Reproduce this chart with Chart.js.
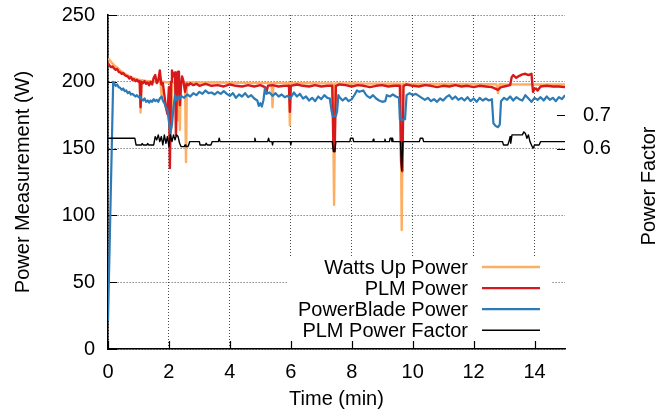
<!DOCTYPE html>
<html>
<head>
<meta charset="utf-8">
<script src="https://cdn.jsdelivr.net/npm/chart.js@4"></script>
<style>
  html, body { margin: 0; padding: 0; background: #fff; }
</style>
</head>
<body>
<canvas id="powerChart" width="657" height="413"></canvas>
<script>
// [time (min), watts]
const wattsUp = [
  [0,217.5],[0.1,215],[0.2,212.5],[0.3,210.5],[0.4,208.5],[0.5,207],[0.6,205.5],[0.7,204.2],[0.8,203.2],[0.9,202.3],
  [1.0,201.6],[1.04,201.5],[1.07,177],[1.1,201.2],[1.2,200.8],[1.4,200.3],[1.6,200],[1.72,200],[1.76,189],[1.8,200],
  [2.0,199.5],[2.05,199],[2.08,165],[2.11,199],[2.2,199.5],[2.25,199.5],[2.28,171],[2.31,199.5],[2.33,199],[2.36,164],
  [2.39,199.5],[2.53,199.5],[2.56,140],[2.59,199.5],[3,199.5],[3.5,199.5],[4,199.3],[4.5,199.2],[5,199],[5.37,199],
  [5.4,181],[5.43,199],[5.94,199],[5.97,167.5],[6.0,199],[6.5,198.9],[7,198.8],[7.38,198.8],[7.42,108],[7.46,198.8],
  [8,198.7],[8.5,198.6],[9,198.5],[9.6,198.5],[9.64,89],[9.68,198.5],[10,198.4],[11,198.3],[12,198.2],[12.75,198.2],
  [12.8,191.5],[12.85,198.2],[13,198.1],[14,198],[15,198]
];

const plmPower = [
  [0,214],[0.05,212],[0.1,211],[0.15,211.5],[0.2,210],[0.25,209],[0.3,209.5],[0.35,207.5],[0.4,207],[0.45,206],
  [0.5,206.5],[0.55,205],[0.6,204.5],[0.65,204],[0.7,202.5],[0.75,203.5],[0.8,201.5],[0.85,202],[0.9,200.5],[0.95,201.5],
  [1.0,200],[1.04,200.5],[1.07,181],[1.1,200],[1.15,199],[1.2,200.5],[1.25,198.5],[1.3,199.5],[1.35,197.5],[1.4,200],
  [1.45,198],[1.5,203],[1.55,205],[1.6,199],[1.65,201],[1.7,208.5],[1.75,198],[1.8,199],[1.85,190],[1.9,181],
  [1.95,176],[2.0,196],[2.03,135.5],[2.07,200],[2.1,208.5],[2.15,204],[2.2,207],[2.23,160],[2.27,200],[2.3,207.5],
  [2.33,196],[2.36,182.5],[2.4,199],[2.43,204],[2.47,201],[2.53,192.5],[2.58,198.5],[2.65,197.5],[2.7,199],[2.8,197.5],
  [2.9,198.5],[3.0,197],[3.2,198.5],[3.4,197],[3.6,197.5],[3.8,196.5],[4.0,198],[4.2,197],[4.4,196.5],[4.6,197.5],
  [4.8,196.5],[5.0,197.5],[5.15,196],[5.2,192],[5.25,197],[5.4,197.5],[5.6,196.5],[5.8,197],[5.94,197],[5.97,177.5],
  [6.0,197],[6.2,198],[6.4,197],[6.6,196.5],[6.8,197.5],[7.0,196.5],[7.2,197],[7.36,197],[7.4,150],[7.44,148],
  [7.48,197],[7.6,198],[7.8,197.5],[8.0,196.5],[8.2,197.5],[8.4,197],[8.6,196],[8.8,197],[9.0,197.5],[9.2,196.5],
  [9.4,197],[9.58,197],[9.62,140],[9.66,133],[9.7,197],[9.8,198],[10.0,197],[10.2,196.5],[10.4,197.5],[10.6,197],
  [10.8,196],[11.0,197],[11.2,196.5],[11.4,197.5],[11.6,196.5],[11.8,197],[12.0,196],[12.2,197],[12.4,196.5],[12.6,196],
  [12.8,194],[12.9,196],[13.0,196.5],[13.2,197.5],[13.25,203.5],[13.3,205],[13.4,203],[13.5,204.5],[13.6,205.5],[13.7,206],
  [13.8,205],[13.9,206],[13.95,192.5],[14.0,194.5],[14.05,195],[14.1,193.5],[14.2,196.5],[14.4,197],[14.6,196.5],[14.8,196.5],
  [15,196]
];

const powerBlade = [
  [0,21],[0.17,200],[0.2,199],[0.25,197],[0.3,198],[0.35,196],[0.4,195.5],[0.45,194],[0.5,195],[0.55,193],
  [0.6,193.5],[0.65,191.5],[0.7,192.5],[0.75,190.5],[0.8,191],[0.85,190],[0.9,189],[0.95,190],[1.0,188.5],[1.05,189],
  [1.1,187],[1.15,186],[1.2,187.5],[1.25,185],[1.3,186],[1.35,184.5],[1.4,186],[1.45,185],[1.5,187],[1.55,185.5],
  [1.6,186.5],[1.65,185],[1.7,187.5],[1.76,189],[1.8,186],[1.85,184],[1.9,181],[1.95,179],[2.0,170],[2.05,162],
  [2.1,168],[2.15,181],[2.2,190],[2.25,186],[2.3,189],[2.35,187],[2.4,189.5],[2.5,188],[2.6,190.5],[2.7,189],
  [2.8,191.5],[2.9,190],[3.0,192.5],[3.1,191],[3.2,193.5],[3.3,191.5],[3.4,192],[3.5,190.5],[3.6,192.5],[3.7,191],
  [3.8,193],[3.9,191],[4.0,189.5],[4.1,191.5],[4.2,188],[4.3,190.5],[4.4,189],[4.5,191.5],[4.6,188.5],[4.7,190],
  [4.8,187.5],[4.9,186],[4.95,182],[5.0,184],[5.05,181.5],[5.1,186],[5.15,195],[5.2,191],[5.3,192],[5.4,189.5],
  [5.5,191.5],[5.6,189],[5.7,190.5],[5.8,188.5],[5.9,189.5],[5.97,187.5],[6.05,190],[6.1,192],[6.2,189],[6.3,191],
  [6.4,187.5],[6.5,189],[6.6,186],[6.7,188],[6.8,185.5],[6.9,189],[7.0,187],[7.1,190],[7.2,188],[7.28,187.5],
  [7.34,178],[7.38,174],[7.48,174.5],[7.52,178],[7.56,190],[7.6,188.5],[7.7,186],[7.8,188],[7.9,185.5],[8.0,187],
  [8.1,190.5],[8.17,193.5],[8.25,192.5],[8.38,193.5],[8.45,191],[8.5,189.5],[8.6,188],[8.7,190],[8.8,187.5],[8.9,186],
  [9.0,185],[9.1,185.5],[9.15,190],[9.25,189],[9.35,190.5],[9.45,189],[9.55,188],[9.58,172],[9.65,171.5],[9.75,172],
  [9.8,190],[9.9,191.5],[10.0,190],[10.1,191],[10.2,189.5],[10.3,188],[10.4,186.5],[10.5,188],[10.6,185.5],[10.7,187],
  [10.8,185],[10.9,187.5],[11.0,186],[11.1,188.5],[11.2,190],[11.3,187],[11.4,189],[11.5,186.5],[11.6,188],[11.7,186],
  [11.8,188.5],[11.9,185.5],[12.0,187.5],[12.1,185],[12.2,188],[12.3,186],[12.4,187.5],[12.5,186],[12.6,187],[12.65,169],
  [12.72,167],[12.8,166],[12.86,168],[12.9,185.5],[13.0,188],[13.1,186.5],[13.2,189],[13.3,186],[13.4,188.5],[13.5,187],
  [13.6,186],[13.7,190],[13.8,187.5],[13.9,185],[14.0,188],[14.1,186.5],[14.2,188.5],[14.3,186],[14.4,189],[14.5,186.5],
  [14.6,188],[14.7,185.5],[14.8,188.5],[14.9,187],[15,190]
];

// [time (min), power factor]
const plmPowerFactor = [
  [0,0.631],[0.88,0.631],[0.92,0.611],[1.1,0.611],[1.12,0.615],[1.16,0.611],[1.28,0.611],[1.3,0.615],[1.34,0.611],[1.5,0.611],
  [1.55,0.636],[1.6,0.626],[1.65,0.641],[1.7,0.621],[1.75,0.636],[1.8,0.611],[1.85,0.641],[1.9,0.616],[1.95,0.636],[2.0,0.606],
  [2.05,0.641],[2.1,0.621],[2.15,0.641],[2.2,0.626],[2.25,0.641],[2.3,0.636],[2.35,0.616],[2.4,0.606],[2.5,0.606],[2.53,0.611],
  [2.56,0.606],[2.62,0.606],[2.65,0.611],[2.68,0.621],[3.0,0.621],[3.02,0.611],[3.2,0.611],[3.22,0.616],[3.26,0.611],[3.38,0.611],
  [3.42,0.621],[3.62,0.621],[3.65,0.631],[3.68,0.621],[4.8,0.621],[4.82,0.631],[4.85,0.621],[5.24,0.621],[5.27,0.631],[5.3,0.621],
  [5.38,0.621],[5.4,0.611],[5.42,0.621],[5.98,0.621],[6.0,0.611],[6.02,0.621],[7.36,0.621],[7.4,0.591],[7.44,0.591],[7.48,0.621],
  [7.94,0.621],[7.96,0.631],[8.04,0.631],[8.06,0.621],[8.69,0.621],[8.71,0.628],[8.73,0.621],[9.07,0.621],[9.09,0.628],[9.11,0.621],
  [9.24,0.621],[9.26,0.631],[9.3,0.631],[9.32,0.621],[9.34,0.631],[9.36,0.621],[9.6,0.621],[9.64,0.535],[9.68,0.621],[10.22,0.621],
  [10.25,0.631],[10.33,0.631],[10.36,0.621],[12.95,0.621],[12.98,0.611],[13.12,0.611],[13.16,0.621],[13.2,0.636],[13.22,0.616],[13.26,0.641],
  [13.6,0.641],[13.65,0.65],[13.7,0.645],[13.75,0.631],[13.8,0.641],[13.85,0.621],[13.9,0.611],[13.95,0.601],[14.0,0.611],[14.15,0.611],
  [14.2,0.621],[15,0.621]
];

const xTicks = [0, 2, 4, 6, 8, 10, 12, 14];
const yTicks = [0, 50, 100, 150, 200, 250];
const pfTicks = [0.6, 0.7];

const FONT = '"Liberation Sans", Arial, Helvetica, sans-serif';
const toXY = pts => pts.map(p => ({x: p[0], y: p[1]}));

// fixed box sizes so the plot area lands where the original has it
const fixWidth = w => s => { s.width = w; s.paddingTop = 0; s.paddingBottom = 0; };

// gnuplot-ish bits: inward tick marks, opaque key box, key on the right, right title
const gnuplotLook = {
  id: 'gnuplotLook',
  beforeDatasetsDraw(chart) {
    const {ctx, chartArea, scales} = chart;
    ctx.save();
    ctx.fillStyle = '#fff';
    ctx.fillRect(287, 256, 264, chartArea.bottom - 1 - 256);
    ctx.strokeStyle = '#000';
    ctx.lineWidth = 1.2;
    ctx.beginPath();
    xTicks.forEach(v => {
      const px = Math.round(scales.x.getPixelForValue(v)) + 0.5;
      ctx.moveTo(px, chartArea.bottom);
      ctx.lineTo(px, chartArea.bottom - 8);
    });
    yTicks.forEach(v => {
      const py = Math.round(scales.y.getPixelForValue(v)) + 0.5;
      ctx.moveTo(chartArea.left, py);
      ctx.lineTo(chartArea.left + 9, py);
    });
    pfTicks.forEach(v => {
      const py = Math.round(scales.pf.getPixelForValue(v)) + 0.5;
      ctx.moveTo(chartArea.right, py);
      ctx.lineTo(chartArea.right - 8, py);
    });
    ctx.stroke();
    ctx.restore();
  },
  afterDraw(chart) {
    const {ctx, chartArea} = chart;
    ctx.save();
    ctx.font = '20px ' + FONT;
    ctx.fillStyle = '#000';
    ctx.textAlign = 'right';
    ctx.textBaseline = 'middle';
    chart.data.datasets.forEach((ds, i) => {
      const y = 267 + i * 21.1;
      ctx.fillText(ds.label, 468, y + 1);
      ctx.strokeStyle = ds.borderColor;
      ctx.lineWidth = ds.borderWidth;
      ctx.beginPath();
      ctx.moveTo(482, y);
      ctx.lineTo(540, y);
      ctx.stroke();
    });
    ctx.translate(649, (chartArea.top + chartArea.bottom) / 2 + 4);
    ctx.rotate(-Math.PI / 2);
    ctx.textAlign = 'center';
    ctx.fillText('Power Factor', 0, 0);
    ctx.restore();
  }
};

const lineStyle = {pointRadius: 0, tension: 0, fill: false, borderJoinStyle: 'round'};

new Chart(document.getElementById('powerChart'), {
  type: 'line',
  data: {
    datasets: [
      Object.assign({label: 'Watts Up Power', data: toXY(wattsUp), borderColor: '#fdae61', borderWidth: 2.4, order: 4, yAxisID: 'y'}, lineStyle),
      Object.assign({label: 'PLM Power', data: toXY(plmPower), borderColor: '#d7191c', borderWidth: 2.4, order: 3, yAxisID: 'y'}, lineStyle),
      Object.assign({label: 'PowerBlade Power', data: toXY(powerBlade), borderColor: '#2c7bb6', borderWidth: 2.2, order: 2, yAxisID: 'y'}, lineStyle),
      Object.assign({label: 'PLM Power Factor', data: toXY(plmPowerFactor), borderColor: '#000', borderWidth: 1.4, order: 1, yAxisID: 'pf'}, lineStyle)
    ]
  },
  options: {
    responsive: false,
    animation: false,
    layout: {padding: {top: 15, left: 0, right: 0, bottom: 0}},
    plugins: {legend: {display: false}, tooltip: {enabled: false}},
    scales: {
      x: {
        type: 'linear', min: 0, max: 15,
        afterBuildTicks: s => { s.ticks = xTicks.map(v => ({value: v})); },
        afterFit: s => { s.height = 64; },
        grid: {color: 'rgba(0,0,0,0.7)', lineWidth: 1, drawTicks: false},
        border: {display: true, color: '#000', width: 1.6, dash: [1, 2]},
        ticks: {padding: 11, color: '#000', maxRotation: 0, font: {family: FONT, size: 20}},
        title: {display: true, text: 'Time (min)', color: '#000', font: {family: FONT, size: 20}, padding: {top: 0, bottom: 2}}
      },
      y: {
        type: 'linear', position: 'left', min: 0, max: 250,
        afterBuildTicks: s => { s.ticks = yTicks.map(v => ({value: v})); },
        afterFit: fixWidth(108),
        grid: {color: 'rgba(0,0,0,0.7)', lineWidth: 1, drawTicks: false},
        border: {display: true, color: '#000', width: 1.6, dash: [1, 2]},
        ticks: {padding: 13, color: '#000', font: {family: FONT, size: 20}},
        title: {display: true, text: 'Power Measurement (W)', color: '#000', font: {family: FONT, size: 20}, padding: {top: 11, bottom: 0}}
      },
      pf: {
        type: 'linear', position: 'right', min: 0, max: 1,
        afterBuildTicks: s => { s.ticks = pfTicks.map(v => ({value: v})); },
        afterFit: fixWidth(92),
        grid: {display: false, drawTicks: false},
        border: {display: false},
        ticks: {padding: 18, color: '#000', font: {family: FONT, size: 20}, callback: v => v.toFixed(1)}
      }
    }
  },
  plugins: [gnuplotLook]
});
</script>
</body>
</html>
